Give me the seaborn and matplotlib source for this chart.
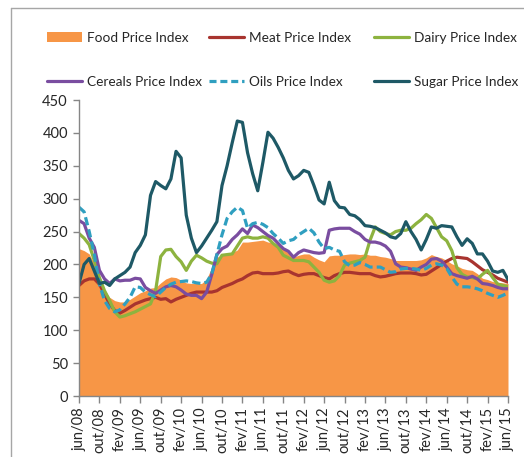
import numpy as np
import pandas as pd
import matplotlib
matplotlib.use("Agg")
import matplotlib.pyplot as plt
import seaborn as sns
from matplotlib.patches import Patch
from matplotlib.lines import Line2D

# ---------------- data (monthly, jun/08 .. jun/15) ----------------
food = [224, 221, 216, 201, 180, 162, 150, 145, 143, 143, 147, 152, 157, 160, 164, 165,
        172, 178, 181, 180, 176, 172, 171, 171, 171, 178, 196, 211, 214, 216, 218, 222,
        234, 234, 235, 236, 237, 234, 233, 230, 226, 218, 211, 214, 216, 216, 211, 207,
        204, 213, 214, 214, 215, 216, 216, 215, 216, 214, 214, 212, 211, 209, 206, 206,
        206, 206, 206, 207, 210, 215, 212, 210, 206, 201, 198, 194, 192, 191, 186, 179,
        177, 174, 173, 172, 171]
meat = [168, 175, 178, 178, 170, 155, 140, 130, 126, 130, 135, 140, 143, 146, 148, 150,
        147, 148, 143, 147, 150, 153, 156, 158, 158, 158, 158, 160, 165, 168, 171, 175,
        178, 183, 187, 188, 186, 186, 186, 187, 189, 190, 186, 183, 185, 186, 186, 183,
        180, 178, 183, 186, 188, 188, 187, 186, 186, 186, 183, 181, 182, 184, 186, 187,
        187, 187, 186, 184, 185, 190, 195, 200, 205, 209, 211, 210, 209, 204, 198, 192,
        188, 184, 179, 176, 173]
dairy = [247, 240, 230, 206, 180, 160, 145, 128, 120, 122, 125, 128, 132, 136, 140, 160,
         212, 222, 223, 212, 204, 191, 205, 214, 210, 205, 202, 201, 214, 215, 216, 228,
         240, 242, 240, 240, 242, 240, 232, 226, 214, 210, 206, 206, 206, 204, 196, 188,
         176, 173, 175, 183, 199, 202, 204, 206, 211, 237, 257, 250, 247, 245, 250, 252,
         252, 255, 262, 268, 276, 270, 256, 242, 236, 221, 195, 185, 181, 180, 178, 185,
         191, 180, 170, 168, 166]
cereals = [267, 262, 240, 226, 191, 178, 171, 178, 175, 176, 176, 179, 178, 165, 160, 156,
           161, 166, 168, 166, 161, 155, 153, 153, 148, 158, 185, 215, 224, 228, 238, 245,
           254, 247, 260, 256, 250, 244, 240, 232, 224, 220, 211, 218, 222, 220, 218, 217,
           218, 252, 254, 255, 255, 255, 250, 246, 238, 234, 234, 232, 228, 220, 201, 196,
           195, 193, 191, 196, 200, 208, 209, 205, 196, 186, 183, 181, 179, 182, 178, 171,
           170, 168, 165, 163, 163]
oils = [287, 280, 250, 215, 170, 145, 133, 128, 131, 140, 150, 166, 165, 158, 154, 151,
        158, 165, 170, 173, 174, 175, 174, 172, 171, 173, 186, 215, 245, 270, 280, 287,
        282, 255, 262, 264, 261, 256, 247, 240, 232, 236, 238, 245, 250, 255, 248, 234,
        224, 226, 222, 220, 204, 198, 199, 203, 200, 196, 196, 196, 192, 188, 189, 193,
        194, 194, 193, 191, 194, 199, 201, 199, 194, 181, 170, 166, 166, 165, 163, 160,
        156, 153, 150, 153, 157]
sugar = [171, 200, 209, 190, 171, 173, 168, 178, 183, 188, 196, 218, 229, 245, 305, 326,
         320, 315, 330, 372, 362, 275, 240, 218, 228, 240, 252, 265, 320, 350, 385, 418,
         416, 370, 338, 312, 355, 401, 392, 378, 362, 343, 330, 335, 343, 340, 320, 298,
         292, 325, 297, 287, 286, 276, 274, 268, 259, 258, 256, 252, 248, 242, 240, 247,
         265, 250, 238, 222, 238, 257, 255, 259, 258, 257, 242, 229, 239, 232, 216, 216,
         205, 190, 188, 191, 177]

tick_labels = ["jun/08", "out/08", "fev/09", "jun/09", "out/09", "fev/10", "jun/10",
               "out/10", "fev/11", "jun/11", "out/11", "fev/12", "jun/12", "out/12",
               "fev/13", "jun/13", "out/13", "fev/14", "jun/14", "out/14", "fev/15",
               "jun/15"]

series_names = ["Meat Price Index", "Dairy Price Index", "Cereals Price Index",
                "Oils Price Index", "Sugar Price Index"]
colors = {"Food Price Index": "#F79646",
          "Meat Price Index": "#A8342F",
          "Dairy Price Index": "#8DB33F",
          "Cereals Price Index": "#7A4DA0",
          "Oils Price Index": "#2F9FC0",
          "Sugar Price Index": "#1E5966"}

months = np.arange(len(food))
df = pd.DataFrame({"month": np.tile(months, 5),
                   "value": np.concatenate([meat, dairy, cereals, oils, sugar]),
                   "series": np.repeat(series_names, len(months))})

# ---------------- figure ----------------
sns.set_style("white")
plt.rcParams["font.family"] = ["Lato", "DejaVu Sans"]

fig = plt.figure(figsize=(5.24, 4.57), dpi=100)
W, H = 524, 457
ax = fig.add_axes([79 / W, 1 - 396 / H, (508 - 79) / W, (396 - 100) / H])

ax.fill_between(months, food, 0, color=colors["Food Price Index"], linewidth=0, zorder=1)

dash_map = {n: "" for n in series_names}
dash_map["Oils Price Index"] = (2.6, 1.3)
sns.lineplot(data=df, x="month", y="value", hue="series", style="series",
             hue_order=series_names, style_order=series_names,
             palette=colors, dashes=dash_map, linewidth=2.3, legend=False,
             ax=ax, zorder=3)

ax.set_xlim(0, 84)
ax.set_ylim(0, 450)
ax.set_yticks(np.arange(0, 451, 50))
ax.set_xticks(np.arange(0, 85, 4))
ax.set_xticklabels(tick_labels, rotation=90)
ax.set_xlabel("")
ax.set_ylabel("")

axis_gray = "#868686"
for s in ["top", "right"]:
    ax.spines[s].set_visible(False)
for s in ["left", "bottom"]:
    ax.spines[s].set_color(axis_gray)
    ax.spines[s].set_linewidth(1.0)
    ax.spines[s].set_zorder(5)
ax.tick_params(axis="y", direction="out", length=4, width=1, color=axis_gray,
               labelsize=10.5, labelcolor="#262626", pad=4, left=True)
ax.tick_params(axis="x", direction="out", length=5, width=1, color=axis_gray,
               labelsize=10.5, labelcolor="#262626", pad=3, bottom=True)

# ---------------- legend (3 columns x 2 rows) ----------------
def line_handle(name, dashed=False):
    return Line2D([], [], color=colors[name], linewidth=2.3,
                  linestyle=(0, (2.2, 1.2)) if dashed else "-")

cols = [
    ([Patch(facecolor=colors["Food Price Index"], edgecolor="none"),
      line_handle("Cereals Price Index")],
     ["Food Price Index", "Cereals Price Index"], 47),
    ([line_handle("Meat Price Index"), line_handle("Oils Price Index", True)],
     ["Meat Price Index", "Oils Price Index"], 209),
    ([line_handle("Dairy Price Index"), line_handle("Sugar Price Index")],
     ["Dairy Price Index", "Sugar Price Index"], 374),
]
for handles, labels, xpx in cols:
    leg = fig.legend(handles, labels, loc="upper left",
                     bbox_to_anchor=(xpx / W, 1 - 32 / H),
                     frameon=False, fontsize=9.8, handlelength=2.6,
                     handletextpad=0.35, labelspacing=2.35, borderpad=0,
                     borderaxespad=0)
    for t in leg.get_texts():
        t.set_color("#262626")

# figure border (top and left)
fig.add_artist(Line2D([11 / W, 1], [1 - 8 / H, 1 - 8 / H], color="#A6A6A6",
                      linewidth=1, transform=fig.transFigure))
fig.add_artist(Line2D([11 / W, 11 / W], [0, 1 - 8 / H], color="#A6A6A6",
                      linewidth=1, transform=fig.transFigure))

fig.savefig("out.png", dpi=100)
